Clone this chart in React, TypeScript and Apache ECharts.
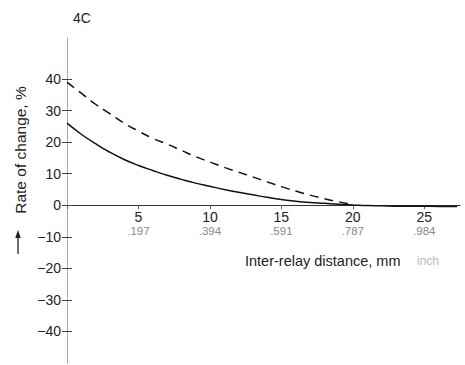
import React, { useEffect, useRef } from "react";
import * as echarts from "echarts";

const distanceMm = [0, 1, 2, 3, 4, 5, 6, 7, 8, 9, 10, 11, 12, 13, 14, 15, 16, 17, 18, 19, 20, 21, 22, 23, 24, 25, 26, 27.3];
const solidRate = [26, 22.5, 19.5, 16.8, 14.5, 12.6, 11, 9.5, 8.2, 7, 6, 5, 4.1, 3.3, 2.5, 1.8, 1.3, 0.9, 0.6, 0.3, 0.1, -0.1, -0.2, -0.3, -0.3, -0.3, -0.4, -0.4];
const dashedX = [0, 1, 2, 3, 4, 5, 6, 7, 8, 9, 10, 11, 12, 13, 14, 15, 16, 17, 18, 19, 20];
const dashedRate = [39, 35.5, 32, 29, 26, 23.5, 21.2, 19.4, 17.4, 15.4, 13.7, 12, 10.5, 9, 7.4, 5.9, 4.5, 3.2, 2.1, 1.1, 0.2];
const xTickValues = [5, 10, 15, 20, 25];
const xTickInch = [".197", ".394", ".591", ".787", ".984"];
const yTickValues = [-40, -30, -20, -10, 0, 10, 20, 30, 40];

const FONT = "Liberation Sans, Arial, sans-serif";
const Y_MIN = -50;
const Y_MAX = 53;
const GRID_TOP = 38;
const GRID_H = 325;
const ZERO_OFFSET = -(GRID_H * (0 - Y_MIN)) / (Y_MAX - Y_MIN);

export default function App() {
  const ref = useRef<HTMLDivElement>(null);
  useEffect(() => {
    if (!ref.current) return;
    const chart = echarts.init(ref.current, null, { renderer: "svg" });
    chart.setOption({
      animation: false,
      backgroundColor: "#fff",
      textStyle: { fontFamily: FONT },
      grid: { left: 67, top: GRID_TOP, width: 393, height: GRID_H, containLabel: false, outerBoundsMode: "none" },
      xAxis: {
        type: "value",
        min: 0,
        max: 27.5,
        interval: 5,
        position: "bottom",
        offset: ZERO_OFFSET,
        axisLine: { onZero: false, lineStyle: { color: "#333", width: 1.2 } },
        axisTick: { show: true, length: 4, lineStyle: { color: "#666" } },
        splitLine: { show: false },
        axisLabel: {
          margin: 5,
          showMaxLabel: false,
          formatter: (v: number) => {
            const i = xTickValues.indexOf(v);
            return i >= 0 ? `{a|${v}}\n{b|${xTickInch[i]}}` : "";
          },
          rich: {
            a: { fontSize: 14, color: "#222", lineHeight: 14, fontFamily: FONT },
            b: { fontSize: 11.5, color: "#888", lineHeight: 13, fontFamily: FONT },
          },
        },
      },
      yAxis: [
        {
          type: "value",
          min: Y_MIN,
          max: Y_MAX,
          axisLine: { show: true, onZero: false, lineStyle: { color: "#999", type: "dotted", width: 1 } },
          axisTick: { show: true, length: 5, customValues: yTickValues, lineStyle: { color: "#444" } },
          splitLine: { show: false },
          axisLabel: {
            customValues: yTickValues,
            margin: 6,
            fontSize: 14,
            color: "#222",
            fontFamily: FONT,
            formatter: (v: number) => (v < 0 ? "\u2212" + Math.abs(v) : String(v)),
          },
        },
        {
          type: "value",
          min: Y_MIN,
          max: Y_MAX,
          position: "left",
          offset: 0,
          axisLine: { show: false, onZero: false },
          axisTick: { show: true, inside: true, length: 5, customValues: yTickValues, lineStyle: { color: "#444" } },
          axisLabel: { show: false },
          splitLine: { show: false },
        },
      ],
      series: [
        {
          type: "line",
          smooth: true,
          symbol: "none",
          data: distanceMm.map((x, i) => [x, solidRate[i]]),
          lineStyle: { color: "#111", width: 1.5 },
        },
        {
          type: "line",
          smooth: true,
          symbol: "none",
          data: dashedX.map((x, i) => [x, dashedRate[i]]),
          lineStyle: { color: "#111", width: 1.5, type: [9, 6] },
        },
      ],
      graphic: [
        { type: "text", left: 73, top: 11, style: { text: "4C", fontSize: 14, fill: "#222", fontFamily: FONT } },
        {
          type: "text",
          x: 20,
          y: 150,
          rotation: Math.PI / 2,
          style: { text: "Rate of change, %", fontSize: 15.5, fill: "#222", fontFamily: FONT, align: "center", verticalAlign: "middle" },
        },
        { type: "line", shape: { x1: 18, y1: 254, x2: 18, y2: 236 }, style: { stroke: "#222", lineWidth: 1.3 } },
        { type: "polygon", shape: { points: [[18, 230], [15.2, 238], [20.8, 238]] }, style: { fill: "#222" } },
        { type: "text", x: 245, y: 261, style: { text: "Inter-relay distance, mm", fontSize: 14.5, fill: "#222", fontFamily: FONT, verticalAlign: "middle" } },
        { type: "text", x: 417, y: 261, style: { text: "inch", fontSize: 12, fill: "#bbb", fontFamily: FONT, verticalAlign: "middle" } },
      ],
    });
    return () => chart.dispose();
  }, []);
  return <div ref={ref} style={{ width: 465, height: 365, position: "absolute", left: 0, top: 0 }} />;
}
